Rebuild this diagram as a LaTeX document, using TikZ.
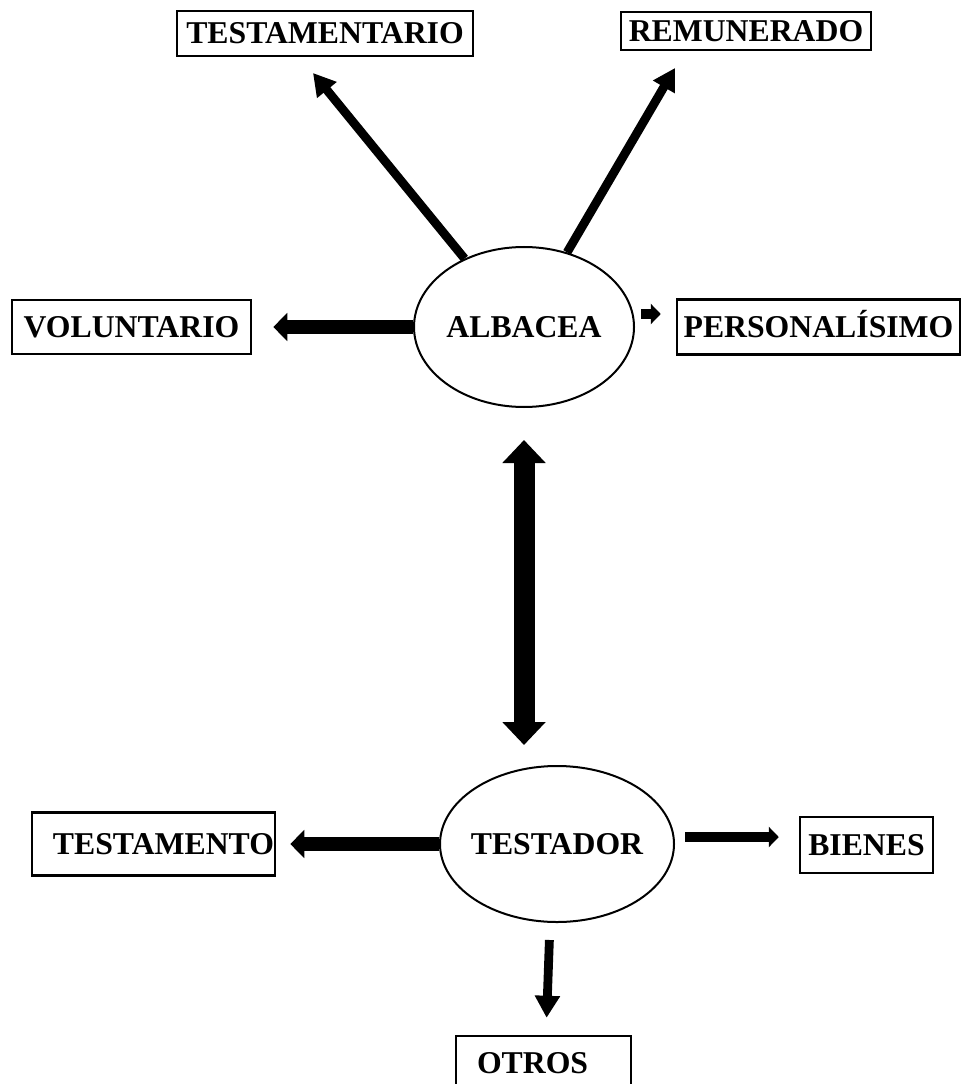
\documentclass[tikz,border=0pt]{standalone}
\usepackage{fontspec}
\setmainfont{Liberation Serif}
\usetikzlibrary{arrows.meta,shapes.geometric}

\newlength{\du}
\setlength{\du}{0.75pt}

\begin{document}
\begin{tikzpicture}[x=\du,y=-\du,
  font=\fontsize{23.8}{28}\selectfont\bfseries,
  box/.style={draw,line width=2.5\du,rectangle,inner sep=0pt,text height=15.7pt,text depth=0pt},
  oval/.style={draw,line width=2\du,ellipse,inner sep=0pt},
  fatarrow/.style={line width=10.8pt,-{Triangle[width=20.5pt,length=10.5pt]}},
  slimarrow/.style={line width=6.6pt,-{Triangle[width=18pt,length=16.5pt]}},
  shortarrow/.style={line width=6.9pt,-{Triangle[width=15pt,length=7.5pt]}},
  bothways/.style={line width=15.75pt,{Triangle[width=31.5pt,length=17.25pt]}-{Triangle[width=31.5pt,length=17.25pt]}}]
\useasboundingbox (0,0) rectangle (961,1084);
% ellipses
\node[oval,minimum width=220\du,minimum height=160\du] (albacea) at (524,327) {ALBACEA};
\node[oval,inner xsep=-6\du,minimum width=234\du,minimum height=156\du] (testador) at (557,844) {TESTADOR};
% boxes, upper part
\node[box,minimum width=296\du,minimum height=45\du] (testamentario) at (325,33.5) {TESTAMENTARIO};
\node[box,minimum width=250\du,minimum height=38\du] (remunerado) at (746,31) {REMUNERADO};
\node[box,minimum width=239\du,minimum height=54\du] (voluntario) at (131.5,327) {VOLUNTARIO};
\node[box,minimum width=283\du,minimum height=55\du] (personalisimo) at (818.5,327) {PERSONALÍSIMO};
% boxes, lower part
\node[box,text width=241\du,inner xsep=1\du,align=right,minimum height=63\du] (testamento) at (153.5,844) {TESTAMENTO};
\node[box,minimum width=133\du,minimum height=56\du] (bienes) at (866.5,845) {BIENES};
\node[box,text width=133\du,inner xsep=21\du,align=left,minimum height=55\du] (otros) at (543.5,1063.5) {OTROS};
% arrow tips without a node
\coordinate (tipTestamentario) at (313,73);
\coordinate (tipRemunerado) at (675,68);
% connectors
\draw[slimarrow] (albacea.131) -- (tipTestamentario);
\draw[slimarrow] (albacea.60) -- (tipRemunerado);
\draw[fatarrow,shorten >=21\du] (albacea.west) -- (voluntario.east);
\draw[shortarrow] ([xshift=6\du,yshift=13\du]albacea.east) -- ([xshift=-15\du,yshift=13\du]personalisimo.west);
\draw[bothways,shorten <=32\du,shorten >=20\du] (albacea.south) -- (albacea.south |- testador.north);
\draw[fatarrow,shorten >=14\du] (testador.west) -- (testamento.east);
\draw[shortarrow,shorten <=10\du,shorten >=20\du] ([yshift=7\du]testador.east) -- ([yshift=8\du]bienes.west);
\draw[slimarrow,shorten <=17\du,shorten >=17\du] ([xshift=-7\du]testador.south) -- ([xshift=2.5\du]otros.north);
\end{tikzpicture}
\end{document}
